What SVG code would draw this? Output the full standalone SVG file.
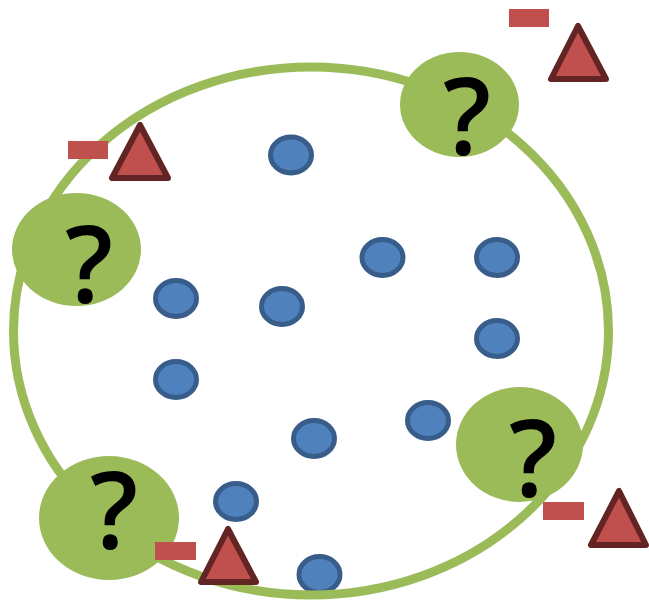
<svg xmlns="http://www.w3.org/2000/svg" width="649" height="603" viewBox="0 0 649 603">
<style>
.dot{fill:#4F81BD;stroke:#385D8A;stroke-width:5}
.ring{fill:none;stroke:#9BBB59;stroke-width:9}
.unk{fill:#9BBB59}
.q{font-family:"Open Sans","DejaVu Sans",sans-serif;font-size:106px;font-weight:600;fill:#000;text-anchor:middle}
.minus{fill:#C0504D}
.tri{fill:#C0504D;stroke:#632523;stroke-width:6;stroke-linejoin:round}
</style>
<rect width="649" height="603" fill="#fff"/>
<g id="particles">
<ellipse class="dot" cx="291" cy="155" rx="20.5" ry="18"/>
<ellipse class="dot" cx="382.5" cy="257.5" rx="20.5" ry="18"/>
<ellipse class="dot" cx="497" cy="257.5" rx="20.5" ry="18"/>
<ellipse class="dot" cx="176" cy="298.5" rx="20.5" ry="18"/>
<ellipse class="dot" cx="282" cy="306.5" rx="20.5" ry="18"/>
<ellipse class="dot" cx="497" cy="338.5" rx="20.5" ry="18"/>
<ellipse class="dot" cx="176" cy="379.5" rx="20.5" ry="18"/>
<ellipse class="dot" cx="428" cy="420.5" rx="20.5" ry="18"/>
<ellipse class="dot" cx="314" cy="438.5" rx="20.5" ry="18"/>
<ellipse class="dot" cx="236" cy="501.5" rx="20.5" ry="18"/>
<ellipse class="dot" cx="319.5" cy="574.5" rx="20.5" ry="18"/>
</g>
<g id="boundary">
<ellipse class="ring" cx="311" cy="331" rx="297.5" ry="264"/>
</g>
<g id="unknown1">
<ellipse class="unk" cx="459.5" cy="104.5" rx="59.5" ry="52.5"/>
<text class="q" x="467" y="155">?</text>
</g>
<g id="unknown2">
<ellipse class="unk" cx="76.5" cy="249.5" rx="64.5" ry="56.5"/>
<text class="q" x="89" y="303">?</text>
</g>
<g id="unknown3">
<ellipse class="unk" cx="519.5" cy="444.5" rx="63.5" ry="57.5"/>
<text class="q" x="533" y="497">?</text>
</g>
<g id="unknown4">
<ellipse class="unk" cx="109" cy="518" rx="70" ry="62"/>
<text class="q" x="114" y="549">?</text>
</g>
<g id="charge1">
<rect class="minus" x="509" y="9" width="40" height="18"/>
<polygon class="tri" points="578,26 551,79 606,79"/>
</g>
<g id="charge2">
<rect class="minus" x="68" y="141" width="40" height="18"/>
<polygon class="tri" points="140,125 112,178 168,178"/>
</g>
<g id="charge3">
<rect class="minus" x="543" y="502" width="41" height="18"/>
<polygon class="tri" points="619,491 591,545 646,545"/>
</g>
<g id="charge4">
<rect class="minus" x="155" y="542" width="41" height="18"/>
<polygon class="tri" points="228,529 201,582 256,582"/>
</g>
</svg>
